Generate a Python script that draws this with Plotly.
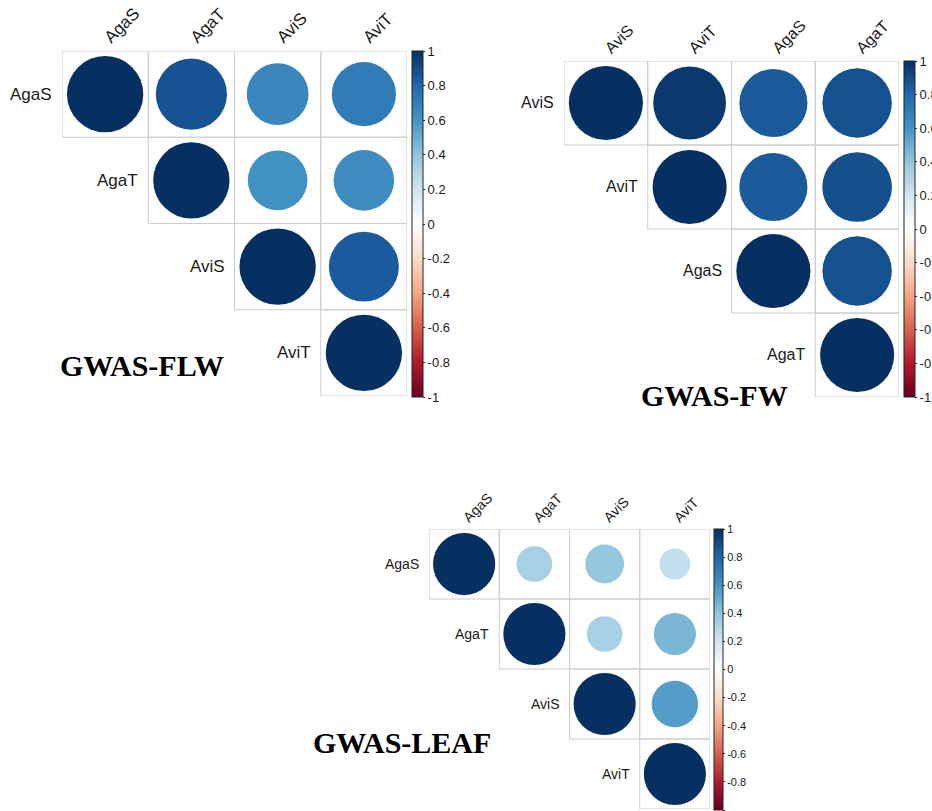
import plotly.graph_objects as go

W, H = 932, 811

# ---------------- data ----------------
flw_labels = ["AgaS", "AgaT", "AviS", "AviT"]
flw_corr = [
    [1.00, 0.87, 0.655, 0.705],
    [None, 1.00, 0.61, 0.63],
    [None, None, 1.00, 0.84],
    [None, None, None, 1.00],
]
fw_labels = ["AviS", "AviT", "AgaS", "AgaT"]
fw_corr = [
    [1.00, 0.965, 0.845, 0.877],
    [None, 1.00, 0.845, 0.885],
    [None, None, 1.00, 0.877],
    [None, None, None, 1.00],
]
leaf_labels = ["AgaS", "AgaT", "AviS", "AviT"]
leaf_corr = [
    [1.00, 0.33, 0.39, 0.245],
    [None, 1.00, 0.33, 0.46],
    [None, None, 1.00, 0.56],
    [None, None, None, 1.00],
]
cbar_ticks = [1, 0.8, 0.6, 0.4, 0.2, 0, -0.2, -0.4, -0.6, -0.8, -1]
cbar_ticktext = ["1", "0.8", "0.6", "0.4", "0.2", "0", "-0.2", "-0.4", "-0.6", "-0.8", "-1"]
titles = ["GWAS-FLW", "GWAS-FW", "GWAS-LEAF"]

# corrplot RdBu palette
rdbu = ["#67001F", "#B2182B", "#D6604D", "#F4A582", "#FDDBC7", "#FFFFFF",
        "#D1E5F0", "#92C5DE", "#4393C3", "#2166AC", "#053061"]
colorscale = [[i / 10, c] for i, c in enumerate(rdbu)]

# ---------------- layout (pixel geometry, page coordinates) ----------------
panels = [
    dict(labels=flw_labels, corr=flw_corr, grid=(62, 407, 51, 396),
         cbar=(412, 11, 51, 346), font=17, tickfont=13,
         title=titles[0], title_xy=(142, 366)),
    dict(labels=fw_labels, corr=fw_corr, grid=(564, 899, 61, 397),
         cbar=(904, 11, 61, 336), font=16, tickfont=13,
         title=titles[1], title_xy=(714, 395)),
    dict(labels=leaf_labels, corr=leaf_corr, grid=(429, 710, 529, 809),
         cbar=(714, 9, 529, 281), font=14, tickfont=11,
         title=titles[2], title_xy=(402, 742)),
]


def px(xp):
    return xp / W


def py(yp):
    return 1 - yp / H


fig = go.Figure()
layout_axes = {}
shapes = []
annotations = []
txt_col = "#1a1a1a"

for k, p in enumerate(panels):
    n = len(p["labels"])
    x0, x1, y0, y1 = p["grid"]
    cell = (x1 - x0) / n
    ax = "" if k == 0 else str(k + 1)
    xa, ya = "x" + ax, "y" + ax

    xs, ys, cs, sz = [], [], [], []
    for i in range(n):
        for j in range(n):
            v = p["corr"][i][j]
            if v is None:
                continue
            xs.append(j)
            ys.append(i)
            cs.append(v)
            sz.append(0.885 * cell * abs(v) ** 0.5)
            shapes.append(dict(type="rect", xref=xa, yref=ya,
                               x0=j - 0.5, x1=j + 0.5, y0=i - 0.5, y1=i + 0.5,
                               line=dict(color="#CCCCCC", width=1), layer="below"))
    cx, cw, cy, ch = p["cbar"]
    fig.add_trace(go.Scatter(
        x=xs, y=ys, mode="markers", xaxis=xa, yaxis=ya, hoverinfo="skip",
        marker=dict(symbol="circle", size=sz, color=cs, cmin=-1, cmax=1, opacity=1,
                    colorscale=colorscale, line=dict(width=0),
                    showscale=True,
                    colorbar=dict(
                        x=px(cx), xanchor="left", y=py(cy), yanchor="top",
                        len=ch, lenmode="pixels", thickness=cw, thicknessmode="pixels",
                        xpad=0, ypad=0, outlinecolor="#222222", outlinewidth=1,
                        tickmode="array", tickvals=cbar_ticks, ticktext=cbar_ticktext,
                        ticks="outside", ticklen=2, tickcolor="#222222",
                        tickfont=dict(family="Arial, Liberation Sans", size=p["tickfont"], color=txt_col),
                    )),
        showlegend=False,
    ))
    layout_axes["xaxis" + ax] = dict(
        domain=[px(x0), px(x1)], range=[-0.5, n - 0.5], anchor=ya,
        side="top", tickmode="array", tickvals=list(range(n)), ticktext=p["labels"],
        tickangle=-45, showgrid=False, zeroline=False, showline=False, ticks="",
        tickfont=dict(family="Arial, Liberation Sans", size=p["font"], color=txt_col),
        fixedrange=True, automargin=False,
    )
    layout_axes["yaxis" + ax] = dict(
        domain=[py(y1), py(y0)], range=[n - 0.5, -0.5], anchor=xa,
        showticklabels=False, showgrid=False, zeroline=False, showline=False,
        fixedrange=True, automargin=False,
    )
    for i, lab in enumerate(p["labels"]):
        annotations.append(dict(
            x=i - 0.5, y=i, xref=xa, yref=ya, text=lab, showarrow=False,
            xanchor="right", yanchor="middle", xshift=-8,
            font=dict(family="Arial, Liberation Sans", size=p["font"], color=txt_col),
        ))
    tx, ty = p["title_xy"]
    annotations.append(dict(
        x=px(tx), y=py(ty), xref="paper", yref="paper", text="<b>" + p["title"] + "</b>",
        showarrow=False, xanchor="center", yanchor="middle",
        font=dict(family="Liberation Serif, Times New Roman", size=30, color="black"),
    ))

fig.update_layout(
    width=W, height=H, margin=dict(l=0, r=0, t=0, b=0, autoexpand=False),
    paper_bgcolor="white", plot_bgcolor="white",
    shapes=shapes, annotations=annotations, **layout_axes,
)

fig.write_html(
    "out.html",
    config={"responsive": False, "displayModeBar": False},
    post_script="document.body.style.margin='0';document.body.style.overflow='hidden';",
)
